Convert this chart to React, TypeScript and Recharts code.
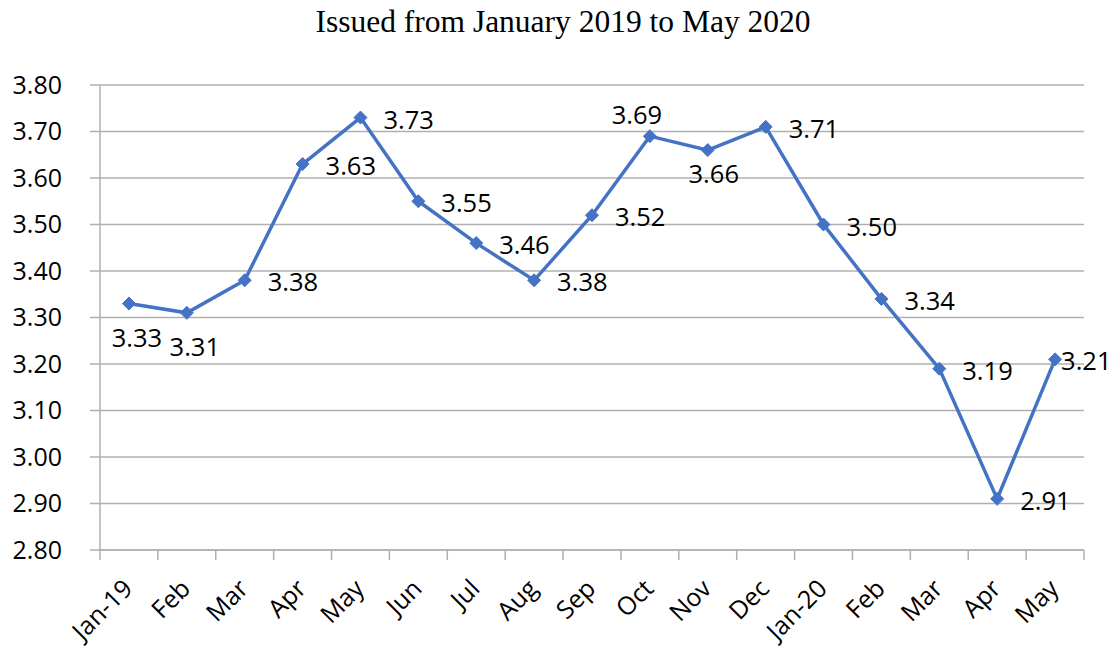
import React from 'react';
import { LineChart, Line, XAxis, YAxis, CartesianGrid, LabelList } from 'recharts';

const categories = ['Jan-19', 'Feb', 'Mar', 'Apr', 'May', 'Jun', 'Jul', 'Aug', 'Sep', 'Oct', 'Nov', 'Dec', 'Jan-20', 'Feb', 'Mar', 'Apr', 'May'];
const values = [3.33, 3.31, 3.38, 3.63, 3.73, 3.55, 3.46, 3.38, 3.52, 3.69, 3.66, 3.71, 3.50, 3.34, 3.19, 2.91, 3.21];
const yTicks = [2.8, 2.9, 3.0, 3.1, 3.2, 3.3, 3.4, 3.5, 3.6, 3.7, 3.8];
const labelPlacement = ['below', 'below', 'right', 'right', 'right', 'right', 'right', 'right', 'right', 'above', 'belowNear', 'right', 'right', 'right', 'right', 'right', 'edge'];
const title = 'Issued from January 2019 to May 2020';

const data = categories.map((c, i) => ({ key: i, cat: c, value: values[i] }));

const W = 1117;
const H = 650;
const M = { top: 85, right: 33, bottom: 0, left: 0 };
const Y_W = 100;
const X_H = 100;
const plotW = W - M.left - M.right - Y_W;
const band = plotW / categories.length;

const SANS = '"Open Sans", sans-serif';
const BLUE = '#4472c4';
const GRID = '#b0b0b0';

const placementStyle: Record<string, { dx: number; dy: number; anchor: 'start' | 'middle' | 'end' }> = {
  right: { dx: 23, dy: 1, anchor: 'start' },
  below: { dx: 8, dy: 33, anchor: 'middle' },
  belowNear: { dx: 6, dy: 23, anchor: 'middle' },
  above: { dx: -13, dy: -22, anchor: 'middle' },
  edge: { dx: 6, dy: 1, anchor: 'start' },
};

const Diamond = (props: any) => {
  const { cx, cy } = props;
  if (cx == null || cy == null) return null;
  const r = 6.5;
  return <polygon points={`${cx},${cy - r} ${cx + r},${cy} ${cx},${cy + r} ${cx - r},${cy}`} fill={BLUE} stroke={BLUE} strokeWidth={1} />;
};

const renderLabel = (props: any) => {
  const { x, y, index, value } = props;
  const s = placementStyle[labelPlacement[index]] || placementStyle.right;
  return (
    <text x={x + s.dx} y={y + s.dy} textAnchor={s.anchor} dominantBaseline="central" fontFamily={SANS} fontSize={25.5} fill="#000">
      {Number(value).toFixed(2)}
    </text>
  );
};

const XTick = (props: any) => {
  const { x, y, payload, index } = props;
  const left = x - band / 2;
  const tx = x - 2;
  const ty = y + 33;
  return (
    <g>
      <line x1={left} y1={y} x2={left} y2={y + 10} stroke={GRID} strokeWidth={1.5} />
      {index === categories.length - 1 && (
        <line x1={x + band / 2} y1={y} x2={x + band / 2} y2={y + 10} stroke={GRID} strokeWidth={1.5} />
      )}
      <text
        x={tx}
        y={ty}
        transform={`rotate(-45, ${tx}, ${ty})`}
        textAnchor="end"
        dominantBaseline="central"
        fontFamily={SANS}
        fontSize={25}
        fill="#000"
      >
        {categories[payload.value]}
      </text>
    </g>
  );
};

export default function App() {
  return (
    <div style={{ position: 'absolute', left: 0, top: 0, width: W, height: H, background: '#fff' }}>
      <div
        style={{
          position: 'absolute',
          left: 0,
          top: 6,
          width: 1126,
          textAlign: 'center',
          fontFamily: '"Liberation Serif", "Times New Roman", serif',
          fontSize: 31.5,
          lineHeight: '31px',
          color: '#000',
        }}
      >
        {title}
      </div>
      <LineChart width={W} height={H} data={data} margin={M}>
        <CartesianGrid vertical={false} stroke={GRID} strokeWidth={1.5} />
        <XAxis
          dataKey="key"
          type="category"
          scale="band"
          interval={0}
          height={X_H}
          tickLine={false}
          tickSize={0}
          tickMargin={0}
          axisLine={{ stroke: GRID, strokeWidth: 1.5 }}
          tick={<XTick />}
        />
        <YAxis
          width={Y_W}
          domain={[2.8, 3.8]}
          ticks={yTicks}
          type="number"
          interval={0}
          tickSize={10}
          tickMargin={28}
          tickLine={{ stroke: GRID, strokeWidth: 1.5 }}
          axisLine={{ stroke: GRID, strokeWidth: 1.5 }}
          tickFormatter={(v: number) => v.toFixed(2)}
          tick={{ fontFamily: SANS, fontSize: 25, fill: '#000' }}
        />
        <Line
          type="linear"
          dataKey="value"
          stroke={BLUE}
          strokeWidth={3.5}
          dot={<Diamond />}
          activeDot={false}
          isAnimationActive={false}
        >
          <LabelList dataKey="value" content={renderLabel} />
        </Line>
      </LineChart>
    </div>
  );
}
